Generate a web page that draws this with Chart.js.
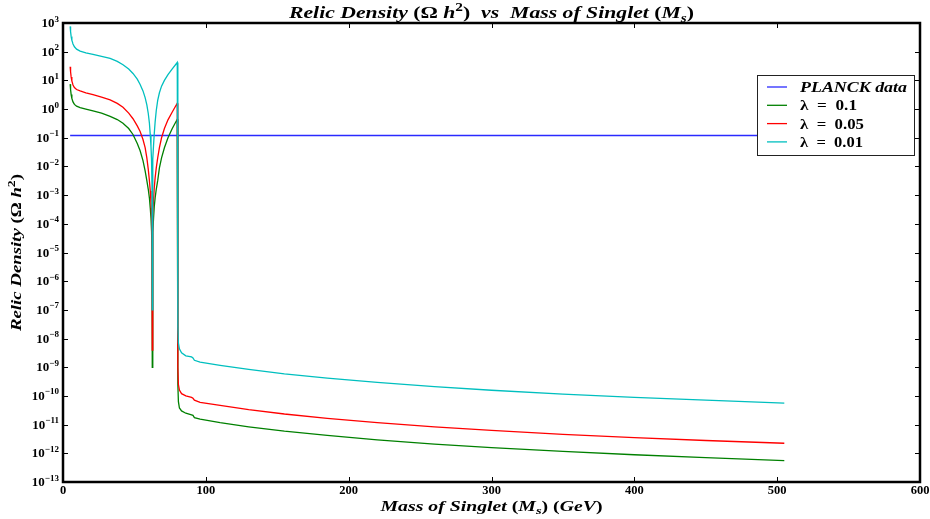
<!DOCTYPE html>
<html>
<head>
<meta charset="utf-8">
<script src="https://cdn.jsdelivr.net/npm/chart.js@4.4.1/dist/chart.umd.min.js"></script>
<style>
	html, body { margin: 0; padding: 0; background: #fff; }
	canvas { display: block; }
</style>
</head>
<body>
<canvas id="relic" width="930" height="519"></canvas>
<script>
// Singlet mass grid (GeV) shared by the three lambda curves.
const masses = [ 5, 5.3, 5.7, 6.2, 7, 8, 9.5, 12, 16, 21, 27, 33, 38, 42, 46, 49, 52, 54, 56, 57.5, 58.7, 59.7, 60.5, 61.1, 61.6, 62.0, 62.3, 62.5,
	62.7, 63.0, 63.4, 63.9, 64.5, 65.3, 66.3, 67.5, 69, 71, 73.5, 76.5, 80,
	80.4, 80.8, 81.5, 83, 86, 90, 91, 92, 96, 110, 130, 155, 185, 220, 260, 300, 350, 400, 450, 505 ];

// Relic density, lambda = 0.1 (green)
const relicLam01 = [ 7.4, 4.8, 3.2, 2.35, 1.78, 1.45, 1.26, 1.12, 1.0, 0.87, 0.72, 0.56, 0.43, 0.32, 0.21, 0.13, 0.063, 0.035, 0.016, 7e-3, 3.2e-3, 1.6e-3, 7.9e-4, 3.5e-4, 1.6e-4, 5.6e-5, 1e-5, 1e-9,
	1e-5, 5e-5, 1.6e-4, 4e-4, 8e-4, 1.6e-3, 3.2e-3, 8.9e-3, 0.02, 0.045, 0.1, 0.21, 0.44,
	2.5e-10, 6.3e-11, 3.8e-11, 3.0e-11, 2.5e-11, 2.2e-11, 2.1e-11, 1.75e-11, 1.55e-11, 1.17e-11, 8.4e-12, 5.9e-12, 4.2e-12, 2.95e-12, 2.1e-12, 1.58e-12, 1.16e-12, 8.9e-13, 7.1e-13, 5.6e-13 ];

// Relic density, lambda = 0.05 (red)
const relicLam005 = [ 30, 20, 13.2, 9.5, 6.9, 5.6, 4.8, 4.3, 3.7, 3.2, 2.6, 2.1, 1.58, 1.15, 0.72, 0.46, 0.26, 0.166, 0.087, 0.045, 0.02, 7.9e-3, 3.2e-3, 1.4e-3, 5.6e-4, 1.8e-4, 3.2e-5, 4e-9,
	3.2e-5, 2e-4, 7e-4, 1.8e-3, 4e-3, 8.9e-3, 0.02, 0.045, 0.1, 0.21, 0.42, 0.79, 1.6,
	1e-9, 2.5e-10, 1.6e-10, 1.2e-10, 1.0e-10, 8.9e-11, 8.3e-11, 7.1e-11, 6.0e-11, 4.7e-11, 3.35e-11, 2.35e-11, 1.66e-11, 1.17e-11, 8.4e-12, 6.3e-12, 4.6e-12, 3.55e-12, 2.8e-12, 2.24e-12 ];

// Relic density, lambda = 0.01 (cyan)
const relicLam001 = [ 760, 500, 340, 250, 186, 148, 123, 105, 91, 81, 69, 58, 46, 35, 25, 17.4, 11, 7.2, 4.3, 2.5, 1.4, 0.7, 0.32, 0.126, 0.05, 0.016, 2e-3, 1e-7,
	2e-3, 0.018, 0.056, 0.14, 0.355, 0.89, 2.0, 3.7, 6.3, 10, 15.8, 25, 42,
	2.5e-8, 7e-9, 4.4e-9, 3.2e-9, 2.5e-9, 2.3e-9, 2.1e-9, 1.75e-9, 1.5e-9, 1.17e-9, 8.4e-10, 5.9e-10, 4.2e-10, 2.95e-10, 2.1e-10, 1.58e-10, 1.16e-10, 8.9e-11, 7.1e-11, 5.6e-11 ];

// PLANCK measurement
const planckMasses = [ 5, 505 ];
const planckRelic = [ 0.12, 0.12 ];

const xTicks = [ 0, 100, 200, 300, 400, 500, 600 ];
const yTickExps = [ -13, -12, -11, -10, -9, -8, -7, -6, -5, -4, -3, -2, -1, 0, 1, 2, 3 ];

const SERIF = '"Liberation Serif", "DejaVu Serif", serif';

function fontFor( kind, size ) {
	if ( kind === 'bi' ) return `italic bold ${ size }px ${ SERIF }`;
	if ( kind === 'sup' ) return `bold ${ Math.round( size * 0.72 ) }px ${ SERIF }`;
	if ( kind === 'sub' ) return `italic bold ${ Math.round( size * 0.7 ) }px ${ SERIF }`;
	return `bold ${ size }px ${ SERIF }`;
}

function richWidth( ctx, parts, size ) {
	let w = 0;
	parts.forEach( ( [ t, k ] ) => {
		ctx.font = fontFor( k, size );
		w += ctx.measureText( t ).width;
	} );
	return w;
}

// Draw a run of text pieces (normal / superscript / subscript) on one baseline.
function drawRich( ctx, parts, size, x, y, align, width ) {
	const w = richWidth( ctx, parts, size );
	const sx = width ? width / w : 1;
	const total = w * sx;
	const x0 = align === 'center' ? x - total / 2 : ( align === 'right' ? x - total : x );
	ctx.save();
	ctx.translate( x0, y );
	ctx.scale( sx, 1 );
	ctx.textBaseline = 'alphabetic';
	ctx.textAlign = 'left';
	let cx = 0;
	parts.forEach( ( [ t, k ] ) => {
		ctx.font = fontFor( k, size );
		const dy = k === 'sup' ? -size * 0.42 : ( k === 'sub' ? size * 0.22 : 0 );
		ctx.fillText( t, cx, dy );
		cx += ctx.measureText( t ).width;
	} );
	ctx.restore();
}

const toPoints = ( xs, ys ) => xs.map( ( m, i ) => ( { x: m, y: ys[ i ] } ) );

const legendItems = [
	{ parts: [ [ 'PLANCK data', 'bi' ] ], color: '#2a2aff', width: 107 },
	{ parts: [ [ '\u03bb  =  0.1', 'b' ] ], color: '#008000', width: 57 },
	{ parts: [ [ '\u03bb  =  0.05', 'b' ] ], color: '#ff0000', width: 64 },
	{ parts: [ [ '\u03bb  =  0.01', 'b' ] ], color: '#00bfbf', width: 63 },
];

const decor = {
	id: 'decor',
	afterDatasetsDraw( chart ) {
		const ctx = chart.ctx;
		const a = chart.chartArea;
		const xs = chart.scales.x;
		const ys = chart.scales.y;
		ctx.save();
		ctx.fillStyle = '#000';
		ctx.strokeStyle = '#000';

		// inward tick marks
		ctx.lineWidth = 1;
		ctx.beginPath();
		xTicks.forEach( ( v ) => {
			const px = Math.round( xs.getPixelForValue( v ) ) + 0.5;
			ctx.moveTo( px, a.bottom ); ctx.lineTo( px, a.bottom - 5 );
			ctx.moveTo( px, a.top ); ctx.lineTo( px, a.top + 5 );
		} );
		yTickExps.forEach( ( e ) => {
			const py = Math.round( ys.getPixelForValue( Math.pow( 10, e ) ) ) + 0.5;
			ctx.moveTo( a.left, py ); ctx.lineTo( a.left + 5, py );
			ctx.moveTo( a.right, py ); ctx.lineTo( a.right - 5, py );
		} );
		ctx.stroke();

		// frame
		ctx.lineWidth = 2.5;
		ctx.strokeRect( a.left, a.top, a.right - a.left, a.bottom - a.top );

		// tick labels
		xTicks.forEach( ( v ) => {
			drawRich( ctx, [ [ String( v ), 'b' ] ], 12.5, xs.getPixelForValue( v ), a.bottom + 12, 'center' );
		} );
		yTickExps.forEach( ( e ) => {
			const exp = e < 0 ? '\u2212' + Math.abs( e ) : String( e );
			drawRich( ctx, [ [ '10', 'b' ], [ exp, 'sup' ] ], 13, a.left - 4, ys.getPixelForValue( Math.pow( 10, e ) ) + 4, 'right' );
		} );

		// title
		drawRich( ctx, [
			[ 'Relic Density ', 'bi' ], [ '(\u03a9 ', 'b' ], [ 'h', 'bi' ], [ '2', 'sup' ], [ ')', 'b' ],
			[ '  vs  ', 'bi' ], [ 'Mass of Singlet ', 'bi' ], [ '(', 'b' ], [ 'M', 'bi' ], [ 's', 'sub' ], [ ')', 'b' ],
		], 17, ( a.left + a.right ) / 2, 18, 'center', 405 );

		// x axis title
		drawRich( ctx, [
			[ 'Mass of Singlet ', 'bi' ], [ '(', 'b' ], [ 'M', 'bi' ], [ 's', 'sub' ], [ ')', 'b' ], [ ' (', 'b' ], [ 'GeV', 'bi' ], [ ')', 'b' ],
		], 15, ( a.left + a.right ) / 2, 511, 'center', 222 );

		// y axis title
		ctx.save();
		ctx.translate( 21, ( a.top + a.bottom ) / 2 );
		ctx.rotate( -Math.PI / 2 );
		drawRich( ctx, [
			[ 'Relic Density ', 'bi' ], [ '(\u03a9 ', 'b' ], [ 'h', 'bi' ], [ '2', 'sup' ], [ ')', 'b' ],
		], 15, 0, 0, 'center', 157 );
		ctx.restore();

		// legend
		const lx = 757, ly = 75, lw = 157, lh = 80;
		ctx.fillStyle = '#fff';
		ctx.fillRect( lx, ly, lw, lh );
		ctx.lineWidth = 1;
		ctx.strokeStyle = '#222';
		ctx.strokeRect( lx + 0.5, ly + 0.5, lw, lh );
		legendItems.forEach( ( it, i ) => {
			const cy = 87 + i * 18.3;
			ctx.strokeStyle = it.color;
			ctx.lineWidth = 1.3;
			ctx.beginPath();
			ctx.moveTo( 767, cy ); ctx.lineTo( 787, cy );
			ctx.stroke();
			ctx.fillStyle = '#000';
			drawRich( ctx, it.parts, 14, 800, cy + 5, 'left', it.width );
		} );
		ctx.restore();
	},
};

new Chart( document.getElementById( 'relic' ), {
	type: 'line',
	data: {
		datasets: [
			{ label: 'PLANCK data', data: toPoints( planckMasses, planckRelic ), borderColor: '#2a2aff', borderWidth: 1.5, order: 4 },
			{ label: 'lambda = 0.1', data: toPoints( masses, relicLam01 ), borderColor: '#008000', order: 3 },
			{ label: 'lambda = 0.05', data: toPoints( masses, relicLam005 ), borderColor: '#ff0000', order: 2 },
			{ label: 'lambda = 0.01', data: toPoints( masses, relicLam001 ), borderColor: '#00bfbf', order: 1 },
		].map( ( d ) => Object.assign( { borderWidth: 1.3, pointRadius: 0, tension: 0, fill: false }, d ) ),
	},
	options: {
		responsive: false,
		animation: false,
		events: [],
		layout: { padding: { left: 63, top: 23, right: 10, bottom: 37 } },
		plugins: { legend: { display: false }, tooltip: { enabled: false }, title: { display: false } },
		scales: {
			x: { type: 'linear', min: 0, max: 600, display: false },
			y: { type: 'logarithmic', min: 1e-13, max: 1e3, display: false },
		},
	},
	plugins: [ decor ],
} );
</script>
</body>
</html>
